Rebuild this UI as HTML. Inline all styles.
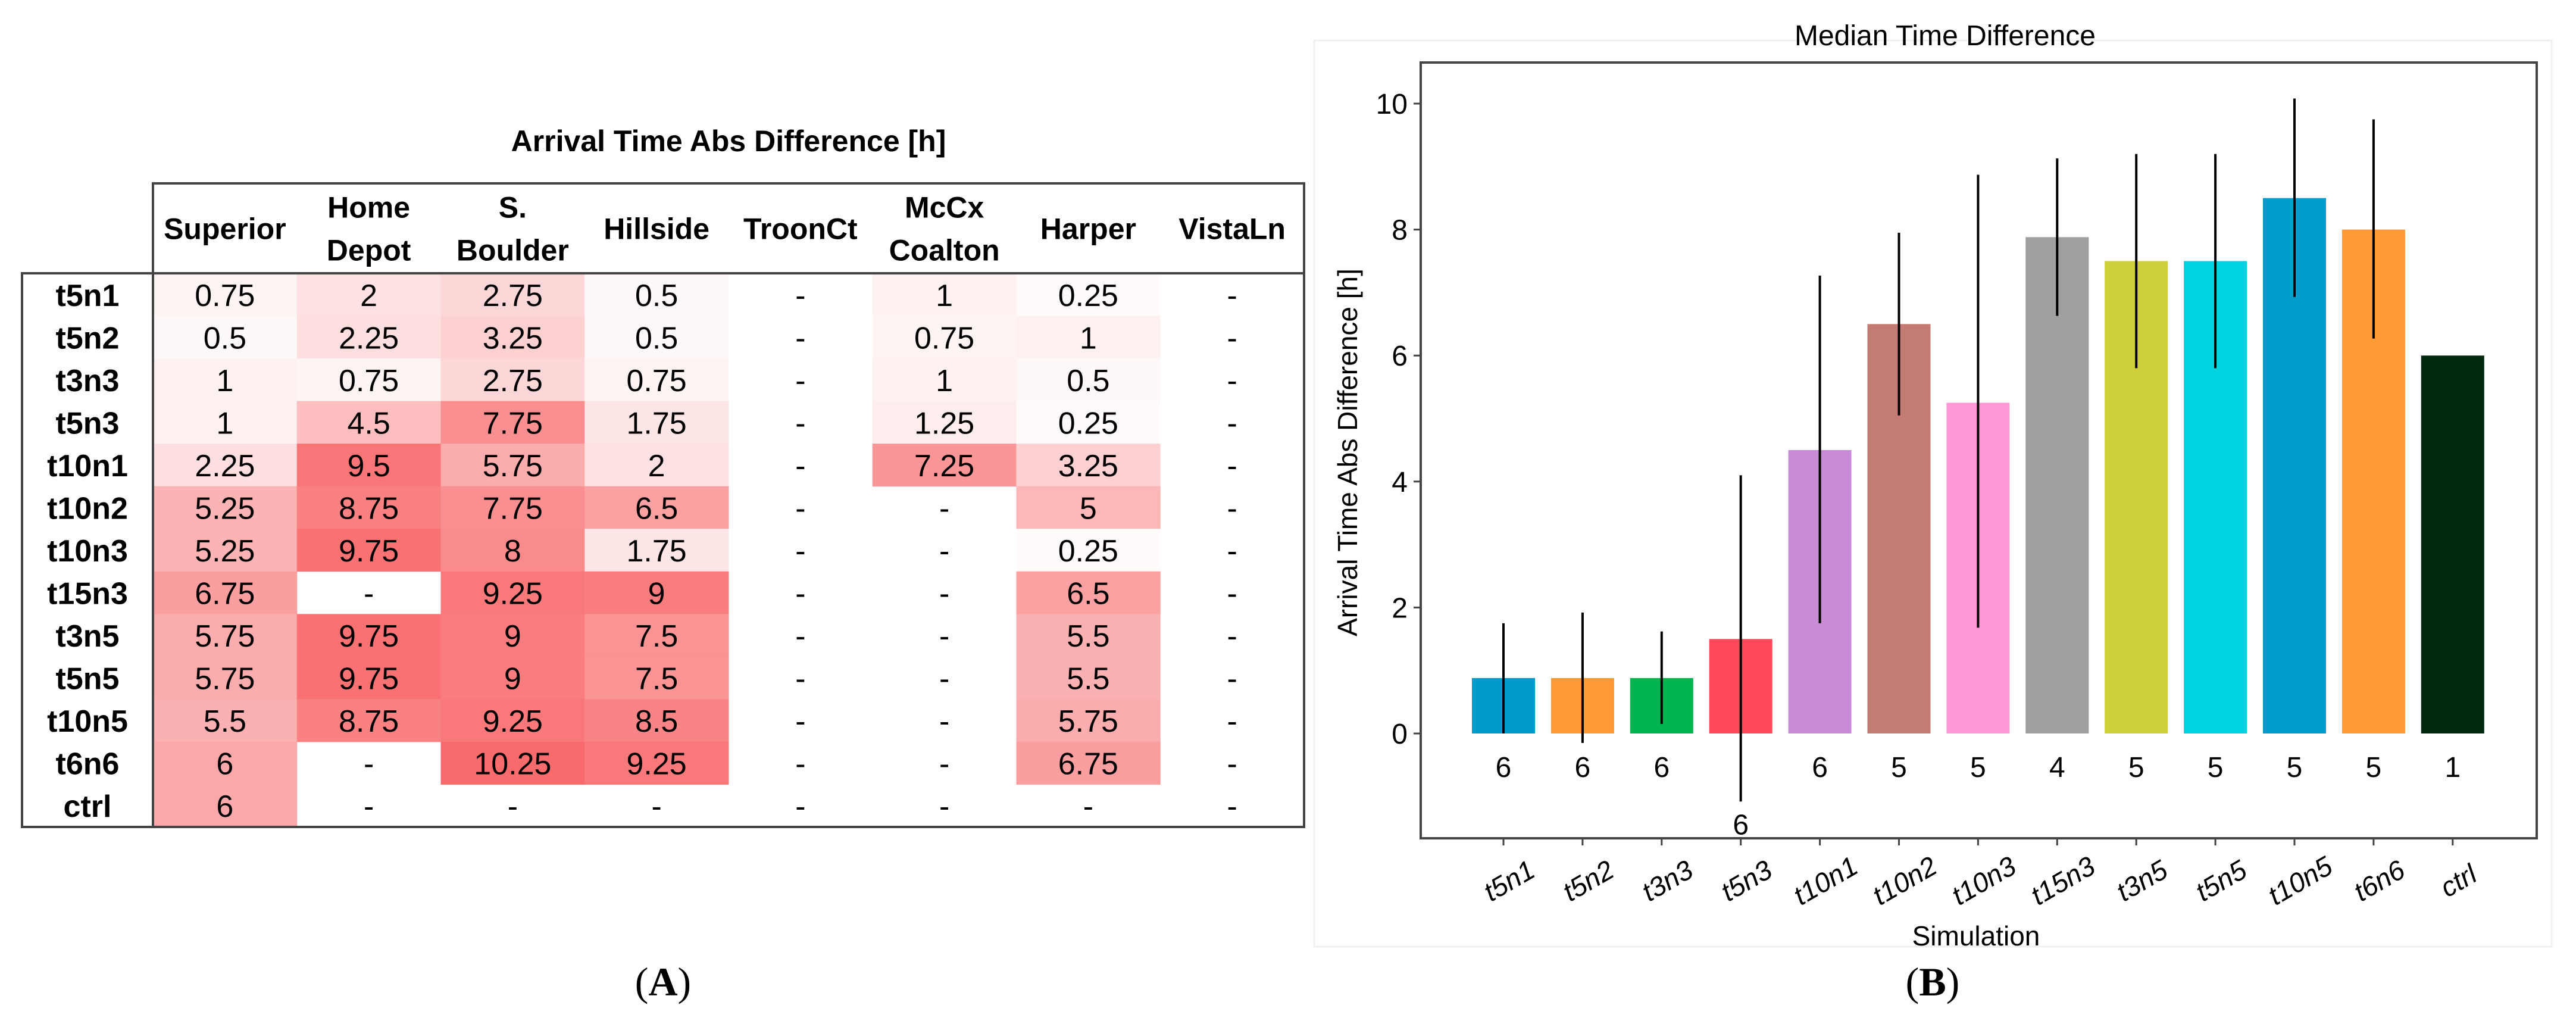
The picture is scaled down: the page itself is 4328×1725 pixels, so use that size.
<!DOCTYPE html>
<html><head><meta charset="utf-8">
<style>
html,body{margin:0;padding:0;background:#fff;}
svg{display:block;}
</style></head>
<body>
<svg id="fig" width="4328" height="1725" viewBox="0 0 4328 1725" xmlns="http://www.w3.org/2000/svg" font-family="Liberation Sans, sans-serif">
  <rect x="0" y="0" width="4328" height="1725" fill="#fff"/>
  <g id="table"></g>
  <g id="chart"></g>
  <text x="1114" y="1672" font-family="Liberation Serif, serif" font-size="68" text-anchor="middle">(<tspan font-weight="bold">A</tspan>)</text>
  <text x="3247" y="1672" font-family="Liberation Serif, serif" font-size="68" text-anchor="middle">(<tspan font-weight="bold">B</tspan>)</text>
</svg>
<script>
// ---------- Table data ----------
const tableCols = ["Superior","Home|Depot","S.|Boulder","Hillside","TroonCt","McCx|Coalton","Harper","VistaLn"];
const tableRows = ["t5n1","t5n2","t3n3","t5n3","t10n1","t10n2","t10n3","t15n3","t3n5","t5n5","t10n5","t6n6","ctrl"];
const tableValues = [
  [0.75,2,2.75,0.5,null,1,0.25,null],
  [0.5,2.25,3.25,0.5,null,0.75,1,null],
  [1,0.75,2.75,0.75,null,1,0.5,null],
  [1,4.5,7.75,1.75,null,1.25,0.25,null],
  [2.25,9.5,5.75,2,null,7.25,3.25,null],
  [5.25,8.75,7.75,6.5,null,null,5,null],
  [5.25,9.75,8,1.75,null,null,0.25,null],
  [6.75,null,9.25,9,null,null,6.5,null],
  [5.75,9.75,9,7.5,null,null,5.5,null],
  [5.75,9.75,9,7.5,null,null,5.5,null],
  [5.5,8.75,9.25,8.5,null,null,5.75,null],
  [6,null,10.25,9.25,null,null,6.75,null],
  [6,null,null,null,null,null,null,null]
];

// ---------- Bar chart data ----------
const simNames = ["t5n1","t5n2","t3n3","t5n3","t10n1","t10n2","t10n3","t15n3","t3n5","t5n5","t10n5","t6n6","ctrl"];
const medianValues = [0.88,0.88,0.88,1.5,4.5,6.5,5.25,7.88,7.5,7.5,8.5,8,6];
const errLow = [0.0,-0.15,0.15,-1.08,1.75,5.05,1.68,6.63,5.8,5.8,6.93,6.27,null];
const errHigh = [1.75,1.92,1.62,4.1,7.27,7.95,8.87,9.13,9.2,9.2,10.08,9.75,null];
const countLabels = ["6","6","6","6","6","5","5","4","5","5","5","5","1"];
const yTicks = [0,2,4,6,8,10];
const barColors = ["#009acb","#ff9933","#00b450","#ff4a5c","#c78cd4","#c47b73","#ff96d6","#a0a0a0","#cfcf3a","#00d3e0","#009ccc","#ff9933","#032a10"];

const NS = "http://www.w3.org/2000/svg";
function mk(tag, attrs, parent, text){
  const e = document.createElementNS(NS, tag);
  for (const k in attrs) e.setAttribute(k, attrs[k]);
  if (text !== undefined) e.textContent = text;
  parent.appendChild(e);
  return e;
}

// ---------- Draw table ----------
(function(){
  const g = document.getElementById('table');
  const x0 = 37, xl = 257, xr = 2191, yh = 308, yb = 459, ybot = 1389;
  const cw = (xr - xl) / tableCols.length, rh = (ybot - yb) / tableRows.length;
  const t = mk('text',{x:1224,y:254,'font-size':50,'font-weight':'bold','text-anchor':'middle'},g,'Arrival Time Abs Difference [h]');
  
  
  function color(v){
    const f = Math.min(v/10.25,1);
    const r = Math.round(255 - 7*f), gg = Math.round(255 - 148*f), b = Math.round(255 - 146*f);
    return `rgb(${r},${gg},${b})`;
  }
  tableRows.forEach((rn, i) => {
    const y = yb + i*rh;
    tableValues[i].forEach((v, j) => {
      const x = xl + j*cw;
      if (v !== null) {
        const c = mk('rect',{x:x,y:y,width:cw+0.5,height:rh+0.5,fill:color(v)},g);
        
        
      }
      const tx = mk('text',{x:x+cw/2,y:y+rh/2+19,'font-size':52,'text-anchor':'middle'},g, v===null?'-':String(v));
      
      
    });
    const rl = mk('text',{x:(x0+xl)/2,y:y+rh/2+19,'font-size':52,'font-weight':'bold','text-anchor':'middle'},g,rn);
    
    
  });
  tableCols.forEach((cn, j) => {
    const x = xl + j*cw + cw/2;
    const parts = cn.split('|');
    if (parts.length === 1) {
      const h = mk('text',{x:x,y:(yh+yb)/2+18,'font-size':50,'font-weight':'bold','text-anchor':'middle'},g,parts[0]);
      
      
    } else {
      parts.forEach((p,k)=>{
        const h = mk('text',{x:x,y:(yh+yb)/2 - 18 + k*72,'font-size':50,'font-weight':'bold','text-anchor':'middle'},g,p);
        
        
      });
    }
  });
  mk('rect',{x:xl,y:yh,width:xr-xl,height:yb-yh,fill:'none',stroke:'#444','stroke-width':4},g);
  mk('rect',{x:x0,y:yb,width:xr-x0,height:ybot-yb,fill:'none',stroke:'#444','stroke-width':4},g);
  mk('line',{x1:xl,y1:yb,x2:xl,y2:ybot,stroke:'#444','stroke-width':4},g);
})();

// ---------- Draw bar chart ----------
(function(){
  const g = document.getElementById('chart');
  const L = 2387, R = 4262, T = 105, B = 1408;
  const y0 = 1232, yPerUnit = (1232-174)/10;
  const yS = v => y0 - v*yPerUnit;
  const step = 132.9, x0 = 2526;
  const xS = i => x0 + i*step;
  const bw = 106;
  mk('rect',{x:2208,y:68,width:2079,height:1522,fill:'none',stroke:'#f0f0f0','stroke-width':3},g);
  const title = mk('text',{x:3268,y:76,'font-size':48,'text-anchor':'middle'},g,'Median Time Difference');
  
  
  simNames.forEach((n,i)=>{
    const v = medianValues[i];
    const b = mk('rect',{x:xS(i)-bw/2,y:Math.min(yS(v),y0),width:bw,height:Math.abs(yS(v)-y0),fill:barColors[i]},g);
    
    
  });
  simNames.forEach((n,i)=>{
    if (errLow[i] !== null) {
      const e = mk('line',{x1:xS(i),x2:xS(i),y1:yS(errLow[i]),y2:yS(errHigh[i]),stroke:'#000','stroke-width':4},g);
      
      
    }
    const ly = (errLow[i] !== null && errLow[i] < -0.6) ? yS(errLow[i]) + 55 : 1305;
    const c = mk('text',{x:xS(i),y:ly,'font-size':48,'text-anchor':'middle'},g,countLabels[i]);
    
    
    mk('line',{x1:xS(i),x2:xS(i),y1:B,y2:B+12,stroke:'#444','stroke-width':3},g);
    const tl = mk('text',{x:xS(i)+10,y:1495,'font-size':46,'text-anchor':'middle','font-style':'italic',transform:`rotate(-30 ${xS(i)+10} 1480)`},g,n);
    
    
  });
  yTicks.forEach(t=>{
    mk('line',{x1:L-12,x2:L,y1:yS(t),y2:yS(t),stroke:'#444','stroke-width':3},g);
    const tt = mk('text',{x:L-22,y:yS(t)+17,'font-size':48,'text-anchor':'end'},g,String(t));
    
    
  });
  mk('rect',{x:L,y:T,width:R-L,height:B-T,fill:'none',stroke:'#444','stroke-width':4},g);
  const yl = mk('text',{x:2280,y:760,'font-size':46,'text-anchor':'middle',transform:'rotate(-90 2280 760)'},g,'Arrival Time Abs Difference [h]');
  
  
  const xl = mk('text',{x:3320,y:1588,'font-size':46,'text-anchor':'middle'},g,'Simulation');
  
  
})();
</script>
</body></html>
